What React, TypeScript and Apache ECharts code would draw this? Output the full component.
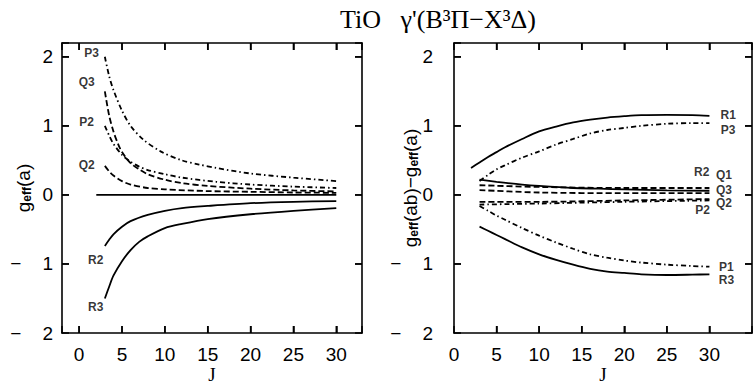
import React, { useEffect, useRef } from "react";
import * as echarts from "echarts";

type Pt = [number, number];

// ---- Left panel: g_eff(a) ----
const leftP3: Pt[] = [[3,2.0],[3.5,1.72],[4,1.52],[5,1.22],[6,1.0],[7.5,0.8],[9.5,0.63],[12,0.5],[14,0.44],[16,0.39],[20,0.31],[25,0.25],[30,0.2]];
const leftQ3: Pt[] = [[3,1.5],[3.5,1.15],[4,0.92],[4.5,0.75],[5,0.62],[6,0.46],[7,0.37],[8,0.3],[10,0.22],[12,0.17],[15,0.13],[20,0.09],[25,0.065],[30,0.05]];
const leftP2: Pt[] = [[3,1.0],[3.5,0.86],[4,0.74],[5,0.58],[6,0.48],[7,0.41],[8,0.36],[10,0.3],[12,0.25],[16,0.19],[20,0.15],[25,0.12],[30,0.1]];
const leftQ2: Pt[] = [[3,0.42],[3.5,0.34],[4,0.28],[5,0.2],[6,0.15],[8,0.1],[10,0.08],[15,0.055],[20,0.045],[25,0.035],[30,0.03]];
const leftZero: Pt[] = [[2,0],[30,0]];
const leftR2: Pt[] = [[3,-0.74],[3.5,-0.65],[4,-0.57],[5,-0.46],[6,-0.38],[8,-0.29],[10,-0.23],[12,-0.19],[15,-0.16],[20,-0.12],[25,-0.1],[30,-0.09]];
const leftR3: Pt[] = [[3,-1.5],[3.5,-1.33],[4,-1.17],[5,-0.96],[6,-0.8],[7,-0.68],[8,-0.6],[10,-0.48],[12,-0.42],[15,-0.35],[20,-0.28],[25,-0.23],[30,-0.19]];

// ---- Right panel: g_eff(ab) - g_eff(a) ----
const rightR1: Pt[] = [[2,0.39],[3,0.47],[4,0.55],[5,0.62],[6,0.69],[8,0.81],[10,0.92],[12,0.99],[14,1.05],[16,1.09],[18,1.12],[20,1.14],[22,1.155],[25,1.16],[28,1.155],[30,1.145]];
const rightP3: Pt[] = [[3,0.2],[4,0.29],[5,0.37],[6,0.43],[8,0.54],[10,0.63],[12,0.73],[14,0.81],[16,0.89],[18,0.94],[20,0.97],[22,1.0],[25,1.03],[28,1.04],[30,1.04]];
const rightR2: Pt[] = [[3,0.22],[5,0.19],[8,0.15],[10,0.13],[14,0.1],[17,0.09],[20,0.08],[25,0.065],[30,0.06]];
const rightQ1: Pt[] = [[3,0.14],[10,0.115],[20,0.1],[30,0.1]];
const rightQ3: Pt[] = [[3,0.07],[10,0.035],[20,0.025],[30,0.025]];
const rightQ2: Pt[] = [[3,-0.1],[10,-0.1],[20,-0.08],[30,-0.06]];
const rightP2: Pt[] = [[3,-0.14],[10,-0.125],[20,-0.1],[30,-0.08]];
const rightP1: Pt[] = [[3,-0.16],[4,-0.23],[5,-0.3],[6,-0.36],[8,-0.48],[10,-0.59],[12,-0.69],[14,-0.78],[16,-0.86],[18,-0.91],[20,-0.95],[22,-0.98],[25,-1.01],[28,-1.03],[30,-1.04]];
const rightR3: Pt[] = [[3,-0.46],[4,-0.52],[5,-0.58],[6,-0.64],[8,-0.76],[10,-0.86],[12,-0.94],[14,-1.01],[16,-1.07],[18,-1.11],[20,-1.13],[22,-1.15],[25,-1.16],[28,-1.155],[30,-1.15]];

// curve labels (name, J, value) in data coordinates
const leftLabels: [string, number, number][] = [["P3",1.46,2.06],["Q3",0.88,1.64],["P2",0.88,1.06],["Q2",0.88,0.44],["R2",1.93,-0.94],["R3",1.93,-1.62]];
const rightLabels: [string, number, number][] = [["R1",32.2,1.16],["P3",32.2,0.945],["R2",29.1,0.335],["Q1",31.7,0.29],["Q3",31.7,0.074],["Q2",31.7,-0.115],["P2",29.2,-0.216],["P1",32.0,-1.04],["R3",32.0,-1.23]];

const yTicks = [-2, -1, 0, 1, 2];
const xTicks = [0, 5, 10, 15, 20, 25, 30];
const leftXRange: Pt = [-2, 33];
const rightXRange: Pt = [0, 35];
const yRange: Pt = [-2, 2.2];

const SOLID = "solid";
const DASH = [6, 3];
const DASHDOT = [5, 3, 1.5, 3];

const SANS = '"Liberation Sans", Arial, Helvetica, sans-serif';
const SERIF = '"Liberation Serif", "Times New Roman", serif';

export default function App() {
  const ref = useRef<HTMLDivElement>(null);
  useEffect(() => {
    if (!ref.current) return;
    const chart = echarts.init(ref.current, undefined, { renderer: "svg" });

    const yFmt = (v: number) => {
      if (!yTicks.includes(v)) return "";
      if (v < 0) return "\u2212\u00A0\u00A0\u00A0\u00A0" + Math.abs(v);
      return String(v);
    };
    const xFmt = (v: number) => (xTicks.includes(v) ? String(v) : "");

    const axLine = () => ({ show: true, onZero: false, lineStyle: { color: "#000", width: 1.6 } });
    const labelStyle = () => ({ color: "#000", fontSize: 19, fontFamily: SANS });
    const axTick = () => ({ show: true, inside: true, length: 7, lineStyle: { color: "#000", width: 1.5 } });
    const TL = 7;

    const line = (data: Pt[], type: any, xi: number) => ({
      type: "line",
      xAxisIndex: xi,
      yAxisIndex: xi,
      data,
      smooth: 0.3,
      showSymbol: false,
      symbol: "none",
      silent: true,
      lineStyle: { color: "#000", width: 1.8, type },
    });

    const labels = (arr: [string, number, number][], xi: number) => ({
      type: "scatter",
      xAxisIndex: xi,
      yAxisIndex: xi,
      symbolSize: 0,
      silent: true,
      data: arr.map(([n, x, y]) => ({ name: n, value: [x, y] })),
      label: {
        show: true,
        position: "inside",
        formatter: (p: any) => p.name,
        color: "#000",
        fontSize: 12,
        fontWeight: "bold",
        fontFamily: SANS,
      },
    });

    const yName = (text: string) => ({
      name: text,
      nameLocation: "middle",
      nameMoveOverlap: false,
      nameTextStyle: {
        color: "#000",
        rich: {
          g: { fontSize: 19, fontFamily: SANS, color: "#000" },
          s: { fontSize: 12, fontWeight: "bold", fontFamily: SANS, color: "#000", verticalAlign: "bottom", padding: [6, 0, 0, 0] },
        },
      },
    });

    const xBase = (grid: number) =>
      grid === 0
        ? { type: "value", gridIndex: 0, min: leftXRange[0], max: leftXRange[1], splitNumber: 7 }
        : { type: "value", gridIndex: 1, min: rightXRange[0], max: rightXRange[1], interval: 5 };
    const yBase = (grid: number) => ({ type: "value", gridIndex: grid, min: yRange[0], max: yRange[1], interval: 1 });

    const option: any = {
      animation: false,
      title: {
        text: "TiO   \u03B3'(B\u00B3\u03A0\u2212X\u00B3\u0394)",
        left: 433,
        top: 1,
        textAlign: "center",
        textStyle: { fontFamily: SERIF, fontSize: 26, fontWeight: "normal", color: "#000" },
      },
      grid: [
        { left: 62, top: 43, width: 300, height: 290, outerBoundsMode: "none" },
        { left: 454, top: 43, width: 298, height: 290, outerBoundsMode: "none" },
      ],
      xAxis: [0, 1].map((g) => ({
        ...xBase(g), axisLine: axLine(), axisTick: axTick(), splitLine: { show: false },
        axisLabel: { ...labelStyle(), margin: 12, formatter: xFmt },
        name: "J", nameLocation: "middle", nameGap: 32, nameMoveOverlap: false,
        nameTextStyle: { color: "#000", fontSize: 19, fontFamily: SERIF },
      })).concat([0, 1].map((g) => ({
        ...xBase(g), position: "top", axisLine: axLine(), axisTick: axTick(), splitLine: { show: false }, axisLabel: { show: false },
      }) as any)),
      yAxis: [
        { ...yBase(0), axisLine: axLine(), axisTick: axTick(), splitLine: { show: false },
          axisLabel: { ...labelStyle(), margin: 9, formatter: yFmt },
          ...yName("{g|g}{s|eff}{g|(a)}"), nameGap: 29 },
        { ...yBase(1), axisLine: axLine(), axisTick: axTick(), splitLine: { show: false },
          axisLabel: { ...labelStyle(), margin: 21, formatter: yFmt },
          ...yName("{g|g}{s|eff}{g|(ab)\u2212g}{s|eff}{g|(a)}"), nameGap: 34 },
        { ...yBase(0), position: "right", axisLine: axLine(), axisTick: axTick(), splitLine: { show: false }, axisLabel: { show: false } },
        { ...yBase(1), position: "right", axisLine: axLine(), axisTick: axTick(), splitLine: { show: false }, axisLabel: { show: false } },
      ],
      series: [
        line(leftP3, DASHDOT, 0),
        line(leftQ3, DASH, 0),
        line(leftP2, DASHDOT, 0),
        line(leftQ2, DASH, 0),
        line(leftZero, SOLID, 0),
        line(leftR2, SOLID, 0),
        line(leftR3, SOLID, 0),
        line(rightR1, SOLID, 1),
        line(rightP3, DASHDOT, 1),
        line(rightR2, SOLID, 1),
        line(rightQ1, DASH, 1),
        line(rightQ3, DASH, 1),
        line(rightQ2, DASH, 1),
        line(rightP2, DASHDOT, 1),
        line(rightP1, DASHDOT, 1),
        line(rightR3, SOLID, 1),
        labels(leftLabels, 0),
        labels(rightLabels, 1),
      ],
    };
    chart.setOption(option);

    // inward tick marks on all four sides of each panel, placed through the axes' own scales
    const tickGraphics: any[] = [];
    const st = { stroke: "#000", lineWidth: 1.5 };
    const addTicks = (gi: number, xr: Pt) => {
      const px = (p: Pt) => chart.convertToPixel({ xAxisIndex: gi, yAxisIndex: gi } as any, p) as unknown as number[];
      xTicks.forEach((v) => {
        if (v <= xr[0] || v >= xr[1]) return;
        const b = px([v, yRange[0]]);
        const t = px([v, yRange[1]]);
        if (!b || !t) return;
        tickGraphics.push({ type: "line", z: 100, silent: true, shape: { x1: b[0], y1: b[1], x2: b[0], y2: b[1] - TL }, style: st });
        tickGraphics.push({ type: "line", z: 100, silent: true, shape: { x1: t[0], y1: t[1], x2: t[0], y2: t[1] + TL }, style: st });
      });
      yTicks.forEach((v) => {
        if (v <= yRange[0] || v >= yRange[1]) return;
        const l = px([xr[0], v]);
        const r = px([xr[1], v]);
        if (!l || !r) return;
        tickGraphics.push({ type: "line", z: 100, silent: true, shape: { x1: l[0], y1: l[1], x2: l[0] + TL, y2: l[1] }, style: st });
        tickGraphics.push({ type: "line", z: 100, silent: true, shape: { x1: r[0], y1: r[1], x2: r[0] - TL, y2: r[1] }, style: st });
      });
    };
    addTicks(0, leftXRange);
    addTicks(1, rightXRange);
    chart.setOption({ graphic: tickGraphics });

    return () => chart.dispose();
  }, []);

  return (
    <div
      ref={ref}
      style={{ position: "absolute", left: 0, top: 0, width: 756, height: 385, background: "#fff" }}
    />
  );
}
